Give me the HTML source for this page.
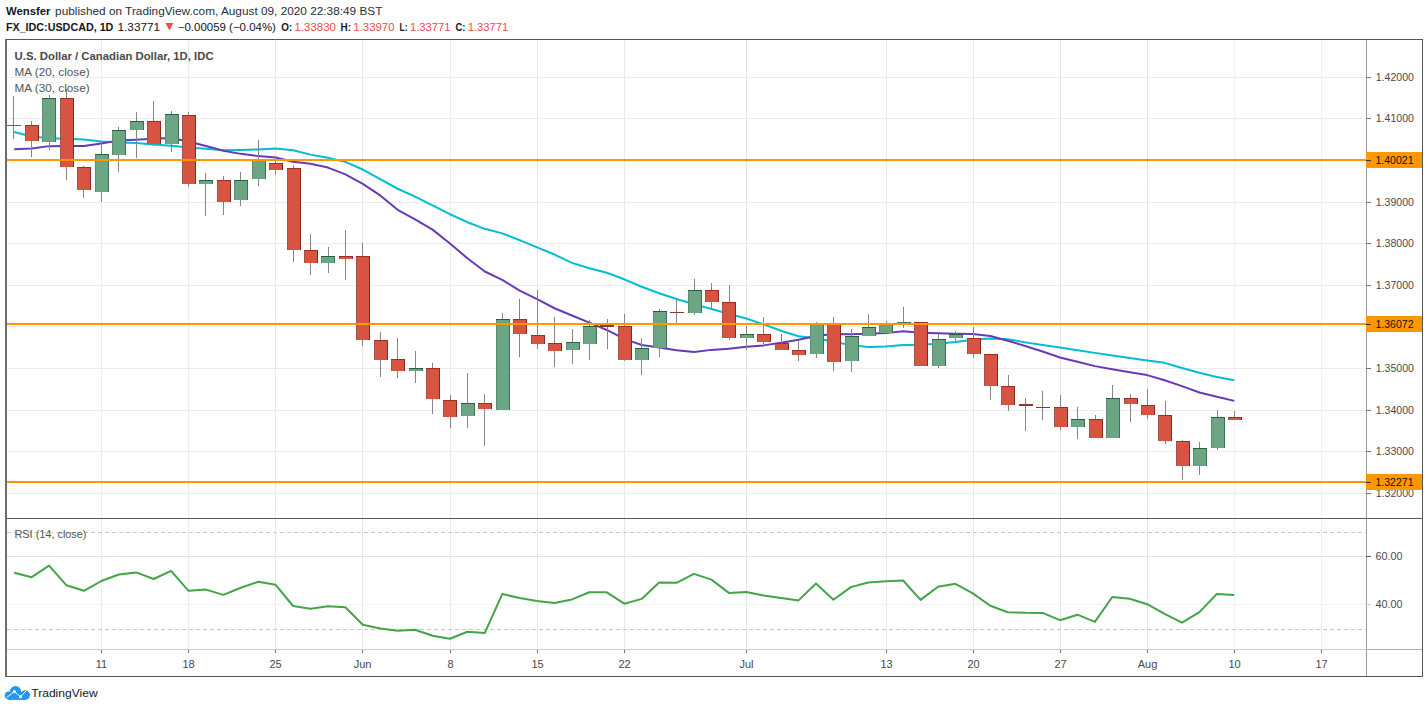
<!DOCTYPE html>
<html><head><meta charset="utf-8"><title>USDCAD chart</title>
<style>html,body{margin:0;padding:0;background:#fff;width:1428px;height:710px;overflow:hidden}body{position:relative}</style></head>
<body>
<svg width="1428" height="710" viewBox="0 0 1428 710" style="position:absolute;left:0;top:0" shape-rendering="crispEdges">
<rect x="0" y="0" width="1428" height="710" fill="#ffffff"/>
<path d="M101.5 40V518M101.5 519V649" stroke="#ebebeb" stroke-width="1"/>
<path d="M188.5 40V518M188.5 519V649" stroke="#ececec" stroke-width="1"/>
<path d="M275.5 40V518M275.5 519V649" stroke="#e9e9e9" stroke-width="1"/>
<path d="M362.5 40V518M362.5 519V649" stroke="#e6e6e6" stroke-width="1"/>
<path d="M450.5 40V518M450.5 519V649" stroke="#ebebeb" stroke-width="1"/>
<path d="M537.5 40V518M537.5 519V649" stroke="#e9e9e9" stroke-width="1"/>
<path d="M624.5 40V518M624.5 519V649" stroke="#e9e9e9" stroke-width="1"/>
<path d="M746.5 40V518M746.5 519V649" stroke="#e4e4e4" stroke-width="1"/>
<path d="M886.5 40V518M886.5 519V649" stroke="#ebebeb" stroke-width="1"/>
<path d="M973.5 40V518M973.5 519V649" stroke="#e9e9e9" stroke-width="1"/>
<path d="M1060.5 40V518M1060.5 519V649" stroke="#e6e6e6" stroke-width="1"/>
<path d="M1147.5 40V518M1147.5 519V649" stroke="#e4e4e4" stroke-width="1"/>
<path d="M1234.5 40V518M1234.5 519V649" stroke="#f3f3f3" stroke-width="1"/>
<path d="M1321.5 40V518M1321.5 519V649" stroke="#f1f1f1" stroke-width="1"/>
<path d="M7 77.5H1366M7 118.5H1366M7 160.5H1366M7 202.5H1366M7 243.5H1366M7 285.5H1366M7 326.5H1366M7 368.5H1366M7 410.5H1366M7 451.5H1366M7 493.5H1366" stroke="#ececec" stroke-width="1" fill="none"/>
<path d="M7 556.5H1366" stroke="#e3e3e3" stroke-width="1"/>
<path d="M7 604.5H1366" stroke="#f3f3f3" stroke-width="1"/>
<path d="M7 532.5H1366M7 629.5H1366" stroke="#c8c8c8" stroke-width="1" stroke-dasharray="4 3"/>
<polyline points="14.2,131.93 31.63,136.51 49.06,138.26 66.49,138.82 83.92,139.56 101.35,141.41 118.78,142.41 136.21,143.06 153.64,144.39 171.07,145.7 188.5,147.39 205.93,148.83 223.36,150.3 240.79,149.97 258.22,149.41 275.65,148.6 293.08,150.34 310.51,154.63 327.94,157.66 345.37,161.85 362.8,169.51 380.23,179.16 397.66,188.75 415.09,196.64 432.52,205.36 449.95,214.22 467.38,222.21 484.81,228.83 502.24,233.38 519.67,240.11 537.1,247.39 554.53,254.54 571.96,262.84 589.39,268.3 606.82,272.8 624.25,279.3 641.68,286.77 659.11,293.2 676.54,299.03 693.97,304.12 711.4,309.07 728.83,313.9 746.26,318.55 763.69,324.36 781.12,330.79 798.55,336.22 815.98,338.21 833.41,341.67 850.84,345.12 868.27,346.98 885.7,346.42 903.13,344.88 920.56,344.8 937.99,343.85 955.42,342.05 972.85,339.7 990.28,338.6 1007.71,339.29 1025.14,342.36 1042.57,345.07 1060,347.45 1077.43,350.16 1094.86,352.88 1112.29,355.47 1129.72,358.06 1147.15,360.42 1164.58,362.84 1182.01,368.08 1199.44,372.79 1216.87,376.93 1234.3,380.25" fill="none" stroke="#00bcd4" stroke-width="2" stroke-linejoin="round" shape-rendering="geometricPrecision"/>
<polyline points="14.2,149.36 31.63,148.48 49.06,146.13 66.49,145.89 83.92,146.09 101.35,143.42 118.78,140.61 136.21,139.66 153.64,138.66 171.07,138.04 188.5,141.43 205.93,145.99 223.36,150.66 240.79,153.86 258.22,156.12 275.65,157.41 293.08,161.72 310.51,163.82 327.94,167.59 345.37,174.33 362.8,183.93 380.23,195.42 397.66,209.84 415.09,219.34 432.52,229.62 449.95,243.56 467.38,258.24 484.81,271.5 502.24,279.78 519.67,290.53 537.1,299.15 554.53,308.26 571.96,315.48 589.39,322.65 606.82,329.97 624.25,338.87 641.68,345.05 659.11,347.51 676.54,350.27 693.97,352.08 711.4,349.88 728.83,348.71 746.26,346.69 763.69,345.38 781.12,342.83 798.55,339.75 815.98,336 833.41,333.97 850.84,334.29 868.27,333.76 885.7,333.12 903.13,331.29 920.56,332.81 937.99,333.37 955.42,333.7 972.85,333.94 990.28,335.94 1007.71,340.68 1025.14,345.94 1042.57,351.55 1060,357.46 1077.43,361.81 1094.86,366.12 1112.29,369.16 1129.72,372.15 1147.15,375.1 1164.58,380.3 1182.01,386.1 1199.44,392.5 1216.87,396.79 1234.3,400.89" fill="none" stroke="#673ab7" stroke-width="2" stroke-linejoin="round" shape-rendering="geometricPrecision"/>
<path d="M13.5 96V139M49.5 95V150M101.5 142V202M118.5 127V172M136.5 112V158M171.5 111V152M205.5 173V216M240.5 172V206M258.5 140V186M328.5 247V273M415.5 351V383M467.5 373V428M502.5 313V410M572.5 329V364M589.5 320V360M641.5 338V375M659.5 309V357M694.5 279V315M746.5 326V350M816.5 322V358M851.5 329V372M868.5 314V336M886.5 321V333M903.5 307V328M938.5 334V368M955.5 331V341M1077.5 407V439M1112.5 385V438M1199.5 442V475M1217.5 410V450M31.5 121V157M66.5 89V180M83.5 166V198M153.5 101V146M188.5 112V187M223.5 176V215M275.5 160V175M293.5 165V262M310.5 234V275M345.5 230V280M362.5 243V346M380.5 332V377M397.5 338V378M432.5 363V414M450.5 395V428M484.5 394V446M519.5 299V357M537.5 290V349M554.5 317V367M607.5 319V349M624.5 314V361M676.5 298V323M711.5 283V308M729.5 285V340M763.5 317V344M781.5 334V350M798.5 341V361M833.5 317V371M920.5 322V366M973.5 327V358M990.5 354V400M1008.5 375V411M1025.5 398V431M1042.5 391V420M1060.5 395V430M1095.5 415V438M1130.5 394V422M1147.5 389V419M1165.5 401V444M1182.5 440V480M1234.5 411V420" stroke="#858585" stroke-width="1" fill="none"/>
<rect x="7" y="125" width="14" height="1" fill="#3f7a58"/>
<rect x="42" y="98" width="14" height="44" fill="#6ba583"/>
<path d="M42.5 98V142M55.5 98V142M42 98.5H56" stroke-width="1" stroke="#2a6040"/>
<path d="M42.5 99V142" stroke-width="1" stroke="#5f8d72"/>
<path d="M55.5 99V142" stroke-width="1" stroke="#3d7353"/>
<rect x="95" y="154" width="14" height="38" fill="#6ba583"/>
<path d="M95.5 154V192M108.5 154V192M95 154.5H109" stroke-width="1" stroke="#2a6040"/>
<path d="M95.5 155V192" stroke-width="1" stroke="#5f8d72"/>
<path d="M108.5 155V192" stroke-width="1" stroke="#3d7353"/>
<rect x="112" y="130" width="14" height="25" fill="#6ba583"/>
<path d="M112.5 130V155M125.5 130V155M112 130.5H126" stroke-width="1" stroke="#2a6040"/>
<path d="M112.5 131V155" stroke-width="1" stroke="#5f8d72"/>
<path d="M125.5 131V155" stroke-width="1" stroke="#3d7353"/>
<rect x="130" y="121" width="14" height="9" fill="#6ba583"/>
<path d="M130.5 121V130M143.5 121V130M130 121.5H144" stroke-width="1" stroke="#2a6040"/>
<path d="M130.5 122V130" stroke-width="1" stroke="#5f8d72"/>
<path d="M143.5 122V130" stroke-width="1" stroke="#3d7353"/>
<rect x="165" y="114" width="14" height="30" fill="#6ba583"/>
<path d="M165.5 114V144M178.5 114V144M165 114.5H179" stroke-width="1" stroke="#2a6040"/>
<path d="M165.5 115V144" stroke-width="1" stroke="#5f8d72"/>
<path d="M178.5 115V144" stroke-width="1" stroke="#3d7353"/>
<rect x="199" y="180" width="14" height="4" fill="#6ba583"/>
<path d="M199.5 180V184M212.5 180V184M199 180.5H213" stroke-width="1" stroke="#2a6040"/>
<path d="M199.5 181V184" stroke-width="1" stroke="#5f8d72"/>
<path d="M212.5 181V184" stroke-width="1" stroke="#3d7353"/>
<rect x="234" y="180" width="14" height="20" fill="#6ba583"/>
<path d="M234.5 180V200M247.5 180V200M234 180.5H248" stroke-width="1" stroke="#2a6040"/>
<path d="M234.5 181V200" stroke-width="1" stroke="#5f8d72"/>
<path d="M247.5 181V200" stroke-width="1" stroke="#3d7353"/>
<rect x="252" y="160" width="14" height="19" fill="#6ba583"/>
<path d="M252.5 160V179M265.5 160V179M252 160.5H266" stroke-width="1" stroke="#2a6040"/>
<path d="M252.5 161V179" stroke-width="1" stroke="#5f8d72"/>
<path d="M265.5 161V179" stroke-width="1" stroke="#3d7353"/>
<rect x="321" y="256" width="14" height="7" fill="#6ba583"/>
<path d="M321.5 256V263M334.5 256V263M321 256.5H335" stroke-width="1" stroke="#2a6040"/>
<path d="M321.5 257V263" stroke-width="1" stroke="#5f8d72"/>
<path d="M334.5 257V263" stroke-width="1" stroke="#3d7353"/>
<rect x="409" y="368" width="14" height="3" fill="#6ba583"/>
<path d="M409.5 368V371M422.5 368V371M409 368.5H423" stroke-width="1" stroke="#2a6040"/>
<path d="M409.5 369V371" stroke-width="1" stroke="#5f8d72"/>
<path d="M422.5 369V371" stroke-width="1" stroke="#3d7353"/>
<rect x="461" y="403" width="14" height="13" fill="#6ba583"/>
<path d="M461.5 403V416M474.5 403V416M461 403.5H475" stroke-width="1" stroke="#2a6040"/>
<path d="M461.5 404V416" stroke-width="1" stroke="#5f8d72"/>
<path d="M474.5 404V416" stroke-width="1" stroke="#3d7353"/>
<rect x="496" y="319" width="14" height="91" fill="#6ba583"/>
<path d="M496.5 319V410M509.5 319V410M496 319.5H510" stroke-width="1" stroke="#2a6040"/>
<path d="M496.5 320V410" stroke-width="1" stroke="#5f8d72"/>
<path d="M509.5 320V410" stroke-width="1" stroke="#3d7353"/>
<rect x="566" y="342" width="14" height="8" fill="#6ba583"/>
<path d="M566.5 342V350M579.5 342V350M566 342.5H580" stroke-width="1" stroke="#2a6040"/>
<path d="M566.5 343V350" stroke-width="1" stroke="#5f8d72"/>
<path d="M579.5 343V350" stroke-width="1" stroke="#3d7353"/>
<rect x="583" y="326" width="14" height="18" fill="#6ba583"/>
<path d="M583.5 326V344M596.5 326V344M583 326.5H597" stroke-width="1" stroke="#2a6040"/>
<path d="M583.5 327V344" stroke-width="1" stroke="#5f8d72"/>
<path d="M596.5 327V344" stroke-width="1" stroke="#3d7353"/>
<rect x="635" y="348" width="14" height="12" fill="#6ba583"/>
<path d="M635.5 348V360M648.5 348V360M635 348.5H649" stroke-width="1" stroke="#2a6040"/>
<path d="M635.5 349V360" stroke-width="1" stroke="#5f8d72"/>
<path d="M648.5 349V360" stroke-width="1" stroke="#3d7353"/>
<rect x="653" y="311" width="14" height="37" fill="#6ba583"/>
<path d="M653.5 311V348M666.5 311V348M653 311.5H667" stroke-width="1" stroke="#2a6040"/>
<path d="M653.5 312V348" stroke-width="1" stroke="#5f8d72"/>
<path d="M666.5 312V348" stroke-width="1" stroke="#3d7353"/>
<rect x="688" y="290" width="14" height="23" fill="#6ba583"/>
<path d="M688.5 290V313M701.5 290V313M688 290.5H702" stroke-width="1" stroke="#2a6040"/>
<path d="M688.5 291V313" stroke-width="1" stroke="#5f8d72"/>
<path d="M701.5 291V313" stroke-width="1" stroke="#3d7353"/>
<rect x="740" y="334" width="14" height="4" fill="#6ba583"/>
<path d="M740.5 334V338M753.5 334V338M740 334.5H754" stroke-width="1" stroke="#2a6040"/>
<path d="M740.5 335V338" stroke-width="1" stroke="#5f8d72"/>
<path d="M753.5 335V338" stroke-width="1" stroke="#3d7353"/>
<rect x="810" y="324" width="14" height="30" fill="#6ba583"/>
<path d="M810.5 324V354M823.5 324V354M810 324.5H824" stroke-width="1" stroke="#2a6040"/>
<path d="M810.5 325V354" stroke-width="1" stroke="#5f8d72"/>
<path d="M823.5 325V354" stroke-width="1" stroke="#3d7353"/>
<rect x="845" y="336" width="14" height="25" fill="#6ba583"/>
<path d="M845.5 336V361M858.5 336V361M845 336.5H859" stroke-width="1" stroke="#2a6040"/>
<path d="M845.5 337V361" stroke-width="1" stroke="#5f8d72"/>
<path d="M858.5 337V361" stroke-width="1" stroke="#3d7353"/>
<rect x="862" y="327" width="14" height="9" fill="#6ba583"/>
<path d="M862.5 327V336M875.5 327V336M862 327.5H876" stroke-width="1" stroke="#2a6040"/>
<path d="M862.5 328V336" stroke-width="1" stroke="#5f8d72"/>
<path d="M875.5 328V336" stroke-width="1" stroke="#3d7353"/>
<rect x="879" y="324" width="14" height="9" fill="#6ba583"/>
<path d="M879.5 324V333M892.5 324V333M879 324.5H893" stroke-width="1" stroke="#2a6040"/>
<path d="M879.5 325V333" stroke-width="1" stroke="#5f8d72"/>
<path d="M892.5 325V333" stroke-width="1" stroke="#3d7353"/>
<rect x="897" y="322" width="14" height="2" fill="#3f7a58"/>
<rect x="932" y="339" width="14" height="27" fill="#6ba583"/>
<path d="M932.5 339V366M945.5 339V366M932 339.5H946" stroke-width="1" stroke="#2a6040"/>
<path d="M932.5 340V366" stroke-width="1" stroke="#5f8d72"/>
<path d="M945.5 340V366" stroke-width="1" stroke="#3d7353"/>
<rect x="949" y="334" width="14" height="4" fill="#6ba583"/>
<path d="M949.5 334V338M962.5 334V338M949 334.5H963" stroke-width="1" stroke="#2a6040"/>
<path d="M949.5 335V338" stroke-width="1" stroke="#5f8d72"/>
<path d="M962.5 335V338" stroke-width="1" stroke="#3d7353"/>
<rect x="1071" y="419" width="14" height="8" fill="#6ba583"/>
<path d="M1071.5 419V427M1084.5 419V427M1071 419.5H1085" stroke-width="1" stroke="#2a6040"/>
<path d="M1071.5 420V427" stroke-width="1" stroke="#5f8d72"/>
<path d="M1084.5 420V427" stroke-width="1" stroke="#3d7353"/>
<rect x="1106" y="398" width="14" height="40" fill="#6ba583"/>
<path d="M1106.5 398V438M1119.5 398V438M1106 398.5H1120" stroke-width="1" stroke="#2a6040"/>
<path d="M1106.5 399V438" stroke-width="1" stroke="#5f8d72"/>
<path d="M1119.5 399V438" stroke-width="1" stroke="#3d7353"/>
<rect x="1193" y="448" width="14" height="18" fill="#6ba583"/>
<path d="M1193.5 448V466M1206.5 448V466M1193 448.5H1207" stroke-width="1" stroke="#2a6040"/>
<path d="M1193.5 449V466" stroke-width="1" stroke="#5f8d72"/>
<path d="M1206.5 449V466" stroke-width="1" stroke="#3d7353"/>
<rect x="1211" y="417" width="14" height="31" fill="#6ba583"/>
<path d="M1211.5 417V448M1224.5 417V448M1211 417.5H1225" stroke-width="1" stroke="#2a6040"/>
<path d="M1211.5 418V448" stroke-width="1" stroke="#5f8d72"/>
<path d="M1224.5 418V448" stroke-width="1" stroke="#3d7353"/>
<rect x="25" y="125" width="14" height="16" fill="#d75442"/>
<path d="M25.5 125V141M38.5 125V141M25 125.5H39" stroke-width="1" stroke="#9a3020"/>
<path d="M25.5 126V141" stroke-width="1" stroke="#a0554a"/>
<path d="M38.5 126V141" stroke-width="1" stroke="#8a2a1e"/>
<rect x="60" y="98" width="14" height="69" fill="#d75442"/>
<path d="M60.5 98V167M73.5 98V167M60 98.5H74" stroke-width="1" stroke="#9a3020"/>
<path d="M60.5 99V167" stroke-width="1" stroke="#a0554a"/>
<path d="M73.5 99V167" stroke-width="1" stroke="#8a2a1e"/>
<rect x="77" y="167" width="14" height="23" fill="#d75442"/>
<path d="M77.5 167V190M90.5 167V190M77 167.5H91" stroke-width="1" stroke="#9a3020"/>
<path d="M77.5 168V190" stroke-width="1" stroke="#a0554a"/>
<path d="M90.5 168V190" stroke-width="1" stroke="#8a2a1e"/>
<rect x="147" y="121" width="14" height="23" fill="#d75442"/>
<path d="M147.5 121V144M160.5 121V144M147 121.5H161" stroke-width="1" stroke="#9a3020"/>
<path d="M147.5 122V144" stroke-width="1" stroke="#a0554a"/>
<path d="M160.5 122V144" stroke-width="1" stroke="#8a2a1e"/>
<rect x="182" y="115" width="14" height="69" fill="#d75442"/>
<path d="M182.5 115V184M195.5 115V184M182 115.5H196" stroke-width="1" stroke="#9a3020"/>
<path d="M182.5 116V184" stroke-width="1" stroke="#a0554a"/>
<path d="M195.5 116V184" stroke-width="1" stroke="#8a2a1e"/>
<rect x="217" y="180" width="14" height="22" fill="#d75442"/>
<path d="M217.5 180V202M230.5 180V202M217 180.5H231" stroke-width="1" stroke="#9a3020"/>
<path d="M217.5 181V202" stroke-width="1" stroke="#a0554a"/>
<path d="M230.5 181V202" stroke-width="1" stroke="#8a2a1e"/>
<rect x="269" y="163" width="14" height="7" fill="#d75442"/>
<path d="M269.5 163V170M282.5 163V170M269 163.5H283" stroke-width="1" stroke="#9a3020"/>
<path d="M269.5 164V170" stroke-width="1" stroke="#a0554a"/>
<path d="M282.5 164V170" stroke-width="1" stroke="#8a2a1e"/>
<rect x="287" y="168" width="14" height="82" fill="#d75442"/>
<path d="M287.5 168V250M300.5 168V250M287 168.5H301" stroke-width="1" stroke="#9a3020"/>
<path d="M287.5 169V250" stroke-width="1" stroke="#a0554a"/>
<path d="M300.5 169V250" stroke-width="1" stroke="#8a2a1e"/>
<rect x="304" y="250" width="14" height="13" fill="#d75442"/>
<path d="M304.5 250V263M317.5 250V263M304 250.5H318" stroke-width="1" stroke="#9a3020"/>
<path d="M304.5 251V263" stroke-width="1" stroke="#a0554a"/>
<path d="M317.5 251V263" stroke-width="1" stroke="#8a2a1e"/>
<rect x="339" y="256" width="14" height="3" fill="#d75442"/>
<path d="M339.5 256V259M352.5 256V259M339 256.5H353" stroke-width="1" stroke="#9a3020"/>
<path d="M339.5 257V259" stroke-width="1" stroke="#a0554a"/>
<path d="M352.5 257V259" stroke-width="1" stroke="#8a2a1e"/>
<rect x="356" y="256" width="14" height="84" fill="#d75442"/>
<path d="M356.5 256V340M369.5 256V340M356 256.5H370" stroke-width="1" stroke="#9a3020"/>
<path d="M356.5 257V340" stroke-width="1" stroke="#a0554a"/>
<path d="M369.5 257V340" stroke-width="1" stroke="#8a2a1e"/>
<rect x="374" y="340" width="14" height="20" fill="#d75442"/>
<path d="M374.5 340V360M387.5 340V360M374 340.5H388" stroke-width="1" stroke="#9a3020"/>
<path d="M374.5 341V360" stroke-width="1" stroke="#a0554a"/>
<path d="M387.5 341V360" stroke-width="1" stroke="#8a2a1e"/>
<rect x="391" y="359" width="14" height="12" fill="#d75442"/>
<path d="M391.5 359V371M404.5 359V371M391 359.5H405" stroke-width="1" stroke="#9a3020"/>
<path d="M391.5 360V371" stroke-width="1" stroke="#a0554a"/>
<path d="M404.5 360V371" stroke-width="1" stroke="#8a2a1e"/>
<rect x="426" y="368" width="14" height="31" fill="#d75442"/>
<path d="M426.5 368V399M439.5 368V399M426 368.5H440" stroke-width="1" stroke="#9a3020"/>
<path d="M426.5 369V399" stroke-width="1" stroke="#a0554a"/>
<path d="M439.5 369V399" stroke-width="1" stroke="#8a2a1e"/>
<rect x="443" y="400" width="14" height="17" fill="#d75442"/>
<path d="M443.5 400V417M456.5 400V417M443 400.5H457" stroke-width="1" stroke="#9a3020"/>
<path d="M443.5 401V417" stroke-width="1" stroke="#a0554a"/>
<path d="M456.5 401V417" stroke-width="1" stroke="#8a2a1e"/>
<rect x="478" y="403" width="14" height="6" fill="#d75442"/>
<path d="M478.5 403V409M491.5 403V409M478 403.5H492" stroke-width="1" stroke="#9a3020"/>
<path d="M478.5 404V409" stroke-width="1" stroke="#a0554a"/>
<path d="M491.5 404V409" stroke-width="1" stroke="#8a2a1e"/>
<rect x="513" y="319" width="14" height="15" fill="#d75442"/>
<path d="M513.5 319V334M526.5 319V334M513 319.5H527" stroke-width="1" stroke="#9a3020"/>
<path d="M513.5 320V334" stroke-width="1" stroke="#a0554a"/>
<path d="M526.5 320V334" stroke-width="1" stroke="#8a2a1e"/>
<rect x="531" y="335" width="14" height="9" fill="#d75442"/>
<path d="M531.5 335V344M544.5 335V344M531 335.5H545" stroke-width="1" stroke="#9a3020"/>
<path d="M531.5 336V344" stroke-width="1" stroke="#a0554a"/>
<path d="M544.5 336V344" stroke-width="1" stroke="#8a2a1e"/>
<rect x="548" y="343" width="14" height="8" fill="#d75442"/>
<path d="M548.5 343V351M561.5 343V351M548 343.5H562" stroke-width="1" stroke="#9a3020"/>
<path d="M548.5 344V351" stroke-width="1" stroke="#a0554a"/>
<path d="M561.5 344V351" stroke-width="1" stroke="#8a2a1e"/>
<rect x="600" y="325" width="14" height="2" fill="#8a3a2c"/>
<rect x="618" y="326" width="14" height="34" fill="#d75442"/>
<path d="M618.5 326V360M631.5 326V360M618 326.5H632" stroke-width="1" stroke="#9a3020"/>
<path d="M618.5 327V360" stroke-width="1" stroke="#a0554a"/>
<path d="M631.5 327V360" stroke-width="1" stroke="#8a2a1e"/>
<rect x="670" y="312" width="14" height="1" fill="#8a3a2c"/>
<rect x="705" y="290" width="14" height="12" fill="#d75442"/>
<path d="M705.5 290V302M718.5 290V302M705 290.5H719" stroke-width="1" stroke="#9a3020"/>
<path d="M705.5 291V302" stroke-width="1" stroke="#a0554a"/>
<path d="M718.5 291V302" stroke-width="1" stroke="#8a2a1e"/>
<rect x="722" y="302" width="14" height="36" fill="#d75442"/>
<path d="M722.5 302V338M735.5 302V338M722 302.5H736" stroke-width="1" stroke="#9a3020"/>
<path d="M722.5 303V338" stroke-width="1" stroke="#a0554a"/>
<path d="M735.5 303V338" stroke-width="1" stroke="#8a2a1e"/>
<rect x="757" y="334" width="14" height="8" fill="#d75442"/>
<path d="M757.5 334V342M770.5 334V342M757 334.5H771" stroke-width="1" stroke="#9a3020"/>
<path d="M757.5 335V342" stroke-width="1" stroke="#a0554a"/>
<path d="M770.5 335V342" stroke-width="1" stroke="#8a2a1e"/>
<rect x="775" y="343" width="14" height="7" fill="#d75442"/>
<path d="M775.5 343V350M788.5 343V350M775 343.5H789" stroke-width="1" stroke="#9a3020"/>
<path d="M775.5 344V350" stroke-width="1" stroke="#a0554a"/>
<path d="M788.5 344V350" stroke-width="1" stroke="#8a2a1e"/>
<rect x="792" y="350" width="14" height="5" fill="#d75442"/>
<path d="M792.5 350V355M805.5 350V355M792 350.5H806" stroke-width="1" stroke="#9a3020"/>
<path d="M792.5 351V355" stroke-width="1" stroke="#a0554a"/>
<path d="M805.5 351V355" stroke-width="1" stroke="#8a2a1e"/>
<rect x="827" y="324" width="14" height="38" fill="#d75442"/>
<path d="M827.5 324V362M840.5 324V362M827 324.5H841" stroke-width="1" stroke="#9a3020"/>
<path d="M827.5 325V362" stroke-width="1" stroke="#a0554a"/>
<path d="M840.5 325V362" stroke-width="1" stroke="#8a2a1e"/>
<rect x="914" y="322" width="14" height="44" fill="#d75442"/>
<path d="M914.5 322V366M927.5 322V366M914 322.5H928" stroke-width="1" stroke="#9a3020"/>
<path d="M914.5 323V366" stroke-width="1" stroke="#a0554a"/>
<path d="M927.5 323V366" stroke-width="1" stroke="#8a2a1e"/>
<rect x="967" y="338" width="14" height="16" fill="#d75442"/>
<path d="M967.5 338V354M980.5 338V354M967 338.5H981" stroke-width="1" stroke="#9a3020"/>
<path d="M967.5 339V354" stroke-width="1" stroke="#a0554a"/>
<path d="M980.5 339V354" stroke-width="1" stroke="#8a2a1e"/>
<rect x="984" y="354" width="14" height="32" fill="#d75442"/>
<path d="M984.5 354V386M997.5 354V386M984 354.5H998" stroke-width="1" stroke="#9a3020"/>
<path d="M984.5 355V386" stroke-width="1" stroke="#a0554a"/>
<path d="M997.5 355V386" stroke-width="1" stroke="#8a2a1e"/>
<rect x="1001" y="386" width="14" height="19" fill="#d75442"/>
<path d="M1001.5 386V405M1014.5 386V405M1001 386.5H1015" stroke-width="1" stroke="#9a3020"/>
<path d="M1001.5 387V405" stroke-width="1" stroke="#a0554a"/>
<path d="M1014.5 387V405" stroke-width="1" stroke="#8a2a1e"/>
<rect x="1019" y="404" width="14" height="2" fill="#8a3a2c"/>
<rect x="1036" y="407" width="14" height="1" fill="#8a3a2c"/>
<rect x="1054" y="407" width="14" height="20" fill="#d75442"/>
<path d="M1054.5 407V427M1067.5 407V427M1054 407.5H1068" stroke-width="1" stroke="#9a3020"/>
<path d="M1054.5 408V427" stroke-width="1" stroke="#a0554a"/>
<path d="M1067.5 408V427" stroke-width="1" stroke="#8a2a1e"/>
<rect x="1089" y="419" width="14" height="19" fill="#d75442"/>
<path d="M1089.5 419V438M1102.5 419V438M1089 419.5H1103" stroke-width="1" stroke="#9a3020"/>
<path d="M1089.5 420V438" stroke-width="1" stroke="#a0554a"/>
<path d="M1102.5 420V438" stroke-width="1" stroke="#8a2a1e"/>
<rect x="1124" y="398" width="14" height="6" fill="#d75442"/>
<path d="M1124.5 398V404M1137.5 398V404M1124 398.5H1138" stroke-width="1" stroke="#9a3020"/>
<path d="M1124.5 399V404" stroke-width="1" stroke="#a0554a"/>
<path d="M1137.5 399V404" stroke-width="1" stroke="#8a2a1e"/>
<rect x="1141" y="405" width="14" height="10" fill="#d75442"/>
<path d="M1141.5 405V415M1154.5 405V415M1141 405.5H1155" stroke-width="1" stroke="#9a3020"/>
<path d="M1141.5 406V415" stroke-width="1" stroke="#a0554a"/>
<path d="M1154.5 406V415" stroke-width="1" stroke="#8a2a1e"/>
<rect x="1158" y="415" width="14" height="26" fill="#d75442"/>
<path d="M1158.5 415V441M1171.5 415V441M1158 415.5H1172" stroke-width="1" stroke="#9a3020"/>
<path d="M1158.5 416V441" stroke-width="1" stroke="#a0554a"/>
<path d="M1171.5 416V441" stroke-width="1" stroke="#8a2a1e"/>
<rect x="1176" y="441" width="14" height="25" fill="#d75442"/>
<path d="M1176.5 441V466M1189.5 441V466M1176 441.5H1190" stroke-width="1" stroke="#9a3020"/>
<path d="M1176.5 442V466" stroke-width="1" stroke="#a0554a"/>
<path d="M1189.5 442V466" stroke-width="1" stroke="#8a2a1e"/>
<rect x="1228" y="417" width="14" height="3" fill="#d75442"/>
<path d="M1228.5 417V420M1241.5 417V420M1228 417.5H1242" stroke-width="1" stroke="#9a3020"/>
<path d="M1228.5 418V420" stroke-width="1" stroke="#a0554a"/>
<path d="M1241.5 418V420" stroke-width="1" stroke="#8a2a1e"/>
<path d="M7 160H1366" stroke="#ff9800" stroke-width="2"/>
<path d="M7 324H1366" stroke="#ff9800" stroke-width="2"/>
<path d="M7 482H1366" stroke="#ff9800" stroke-width="2"/>
<polyline points="14.2,572.7 31.63,577.2 49.06,565.6 66.49,585.3 83.92,590.8 101.35,581 118.78,574.5 136.21,572.4 153.64,579 171.07,570.9 188.5,590.8 205.93,589.6 223.36,594.9 240.79,587.8 258.22,581.8 275.65,584.8 293.08,606 310.51,608.7 327.94,606.2 345.37,607.2 362.8,624.7 380.23,628.4 397.66,630.7 415.09,629.7 432.52,635.7 449.95,638.7 467.38,631.7 484.81,632.9 502.24,594.1 519.67,597.9 537.1,600.9 554.53,602.9 571.96,599.4 589.39,592.3 606.82,592.3 624.25,603.7 641.68,598.9 659.11,582.5 676.54,582.8 693.97,573.9 711.4,579.6 728.83,592.9 746.26,592.1 763.69,595.4 781.12,597.9 798.55,600.4 815.98,583.5 833.41,599.7 850.84,587.1 868.27,582.5 885.7,581.3 903.13,580.5 920.56,599.9 937.99,586.8 955.42,583.8 972.85,593.4 990.28,605.7 1007.71,612.3 1025.14,612.8 1042.57,612.9 1060,620.2 1077.43,614.7 1094.86,621.9 1112.29,597 1129.72,598.8 1147.15,604.2 1164.58,613.9 1182.01,622.7 1199.44,612.1 1216.87,593.9 1234.3,595.1" fill="none" stroke="#43a547" stroke-width="2" stroke-linejoin="round" shape-rendering="geometricPrecision"/>
<path d="M1366.5 40V676" stroke="#9a9a9a" stroke-width="1"/>
<path d="M7 649.5H1366" stroke="#cccccc" stroke-width="1"/>
<path d="M1366 649.5H1422" stroke="#b0b0b0" stroke-width="1"/>
<path d="M5 518.5H1422" stroke="#5a5a5a" stroke-width="1"/>
<path d="M5 39.5H1422.5M1422.5 39V677M5 676.5H1423" stroke="#565656" stroke-width="1" fill="none"/>
<path d="M6 39V677" stroke="#6e6e6e" stroke-width="2"/>
<path d="M1366 77.5H1371M1366 118.5H1371M1366 160.5H1371M1366 202.5H1371M1366 243.5H1371M1366 285.5H1371M1366 326.5H1371M1366 368.5H1371M1366 410.5H1371M1366 451.5H1371M1366 493.5H1371" stroke="#777" stroke-width="1"/>
<g font-family="Liberation Sans, Arial, sans-serif" font-size="11" fill="#4a4a4a" shape-rendering="geometricPrecision">
<text x="1375.8" y="81" textLength="38.2" lengthAdjust="spacingAndGlyphs">1.42000</text>
<text x="1375.8" y="122" textLength="38.2" lengthAdjust="spacingAndGlyphs">1.41000</text>
<text x="1375.8" y="206" textLength="38.2" lengthAdjust="spacingAndGlyphs">1.39000</text>
<text x="1375.8" y="247" textLength="38.2" lengthAdjust="spacingAndGlyphs">1.38000</text>
<text x="1375.8" y="289" textLength="38.2" lengthAdjust="spacingAndGlyphs">1.37000</text>
<text x="1375.8" y="372" textLength="38.2" lengthAdjust="spacingAndGlyphs">1.35000</text>
<text x="1375.8" y="414" textLength="38.2" lengthAdjust="spacingAndGlyphs">1.34000</text>
<text x="1375.8" y="455" textLength="38.2" lengthAdjust="spacingAndGlyphs">1.33000</text>
<text x="1375.8" y="497" textLength="38.2" lengthAdjust="spacingAndGlyphs">1.32000</text>
</g>
<rect x="1366" y="152" width="56" height="16" fill="#ff9800"/>
<path d="M1366 160.5H1371" stroke="#333" stroke-width="1"/>
<text x="1375.5" y="164" font-family="Liberation Sans, Arial, sans-serif" font-size="11" fill="#111" textLength="38" lengthAdjust="spacingAndGlyphs">1.40021</text>
<rect x="1366" y="316" width="56" height="16" fill="#ff9800"/>
<path d="M1366 324.5H1371" stroke="#333" stroke-width="1"/>
<text x="1375.5" y="328" font-family="Liberation Sans, Arial, sans-serif" font-size="11" fill="#111" textLength="38" lengthAdjust="spacingAndGlyphs">1.36072</text>
<rect x="1366" y="474" width="56" height="16" fill="#ff9800"/>
<path d="M1366 482.5H1371" stroke="#333" stroke-width="1"/>
<text x="1375.5" y="486" font-family="Liberation Sans, Arial, sans-serif" font-size="11" fill="#111" textLength="38" lengthAdjust="spacingAndGlyphs">1.32271</text>
<path d="M1366 556.5H1371" stroke="#555" stroke-width="1"/>
<path d="M1366 604.5H1371" stroke="#ccc" stroke-width="1"/>
<g font-family="Liberation Sans, Arial, sans-serif" font-size="11" fill="#4a4a4a">
<text x="1375.5" y="560.4" textLength="27" lengthAdjust="spacingAndGlyphs">60.00</text>
<text x="1375.5" y="608.4" textLength="27" lengthAdjust="spacingAndGlyphs">40.00</text>
</g>
<path d="M101.5 650V653M188.5 650V653M275.5 650V653M362.5 650V653M450.5 650V653M537.5 650V653M624.5 650V653M746.5 650V653M886.5 650V653M973.5 650V653M1060.5 650V653M1147.5 650V653M1234.5 650V653M1321.5 650V653" stroke="#6a6a6a" stroke-width="1"/>
<g font-family="Liberation Sans, Arial, sans-serif" font-size="11" fill="#4a4a4a" text-anchor="middle">
<text x="101.5" y="668">11</text>
<text x="188.5" y="668">18</text>
<text x="275.5" y="668">25</text>
<text x="362.5" y="668">Jun</text>
<text x="450.5" y="668">8</text>
<text x="537.5" y="668">15</text>
<text x="624.5" y="668">22</text>
<text x="746.5" y="668">Jul</text>
<text x="886.5" y="668">13</text>
<text x="973.5" y="668">20</text>
<text x="1060.5" y="668">27</text>
<text x="1147.5" y="668">Aug</text>
<text x="1234.5" y="668">10</text>
<text x="1321.5" y="668">17</text>
</g>
<g font-family="Liberation Sans, Arial, sans-serif" fill="#555555">
<text x="14.6" y="59.7" font-size="11.5" font-weight="bold" fill="#4a4a4a" textLength="199" lengthAdjust="spacingAndGlyphs">U.S. Dollar / Canadian Dollar, 1D, IDC</text>
<text x="14.6" y="75.9" font-size="11.2" textLength="75" lengthAdjust="spacingAndGlyphs">MA (20, close)</text>
<text x="14.6" y="91.9" font-size="11.2" textLength="75" lengthAdjust="spacingAndGlyphs">MA (30, close)</text>
<text x="14.5" y="538" font-size="11.2" textLength="72" lengthAdjust="spacingAndGlyphs">RSI (14, close)</text>
</g>
<g font-family="Liberation Sans, Arial, sans-serif" font-size="10.5" fill="#131722">
<text x="5.9" y="15" font-weight="bold" textLength="44.6" lengthAdjust="spacingAndGlyphs">Wensfer</text>
<text x="55.1" y="15" fill="#2a2e39" textLength="327.3" lengthAdjust="spacingAndGlyphs">published on TradingView.com, August 09, 2020 22:38:49 BST</text>
<text x="5.9" y="30.5" font-weight="bold" textLength="107.5" lengthAdjust="spacingAndGlyphs">FX_IDC:USDCAD, 1D</text>
<text x="117.5" y="30.5" textLength="42.7" lengthAdjust="spacingAndGlyphs">1.33771</text>
<text x="177.8" y="30.5" textLength="98.1" lengthAdjust="spacingAndGlyphs">−0.00059 (−0.04%)</text>
<text x="281.2" y="30.5" font-weight="bold" textLength="11" lengthAdjust="spacingAndGlyphs">O:</text>
<text x="294.5" y="30.5" fill="#f04a4a" textLength="41.5" lengthAdjust="spacingAndGlyphs">1.33830</text>
<text x="340.6" y="30.5" font-weight="bold" textLength="10.5" lengthAdjust="spacingAndGlyphs">H:</text>
<text x="353.3" y="30.5" fill="#f04a4a" textLength="41.2" lengthAdjust="spacingAndGlyphs">1.33970</text>
<text x="399.6" y="30.5" font-weight="bold" textLength="8" lengthAdjust="spacingAndGlyphs">L:</text>
<text x="409.9" y="30.5" fill="#f04a4a" textLength="40.7" lengthAdjust="spacingAndGlyphs">1.33771</text>
<text x="455.5" y="30.5" font-weight="bold" textLength="10" lengthAdjust="spacingAndGlyphs">C:</text>
<text x="467.7" y="30.5" fill="#f04a4a" textLength="40.7" lengthAdjust="spacingAndGlyphs">1.33771</text>
</g>
<path d="M165.5 23.1H173.3L169.4 30.4Z" fill="#f04a4a" shape-rendering="geometricPrecision"/>
<g shape-rendering="geometricPrecision">
<g fill="#2196f3"><circle cx="8.9" cy="695.6" r="4.1"/><circle cx="15.5" cy="691.7" r="5.7"/><circle cx="25.2" cy="695.1" r="4.8"/><rect x="8.9" y="692" width="16.3" height="7.9"/></g>
<path d="M6.7 697.6L14.3 691.5L20.5 696.8L26.6 690.4" stroke="#fff" stroke-width="1" fill="none"/>
<circle cx="14.3" cy="691.5" r="1.5" fill="#fff"/><circle cx="20.5" cy="696.8" r="1.5" fill="#fff"/>
</g>
<text x="31.2" y="697" font-family="Liberation Sans, Arial, sans-serif" font-size="11.2" fill="#131722" textLength="66.6" lengthAdjust="spacingAndGlyphs">TradingView</text>
</svg>
</body></html>
